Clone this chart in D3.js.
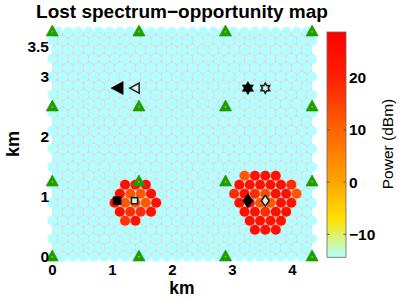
<!DOCTYPE html>
<html>
<head>
<meta charset="utf-8">
<script src="https://cdn.jsdelivr.net/npm/d3@7"></script>
<style>
  html, body { margin: 0; padding: 0; background: #fff; }
  svg { display: block; }
  text { font-family: "Liberation Sans", Arial, sans-serif; fill: #000; }
</style>
</head>
<body>
<div id="chart"></div>
<script>
// grid of the map, in km
const hexStepX = 4.33 / 25, hexStepY = 3.75 / 25
const hexRows = d3.range(26)
const xTicks = [0, 1, 2, 3, 4]
const yTicks = [0, 1, 2, 3, 3.5]
const powerTicks = [-10, 0, 10, 20]
const powerMin = -14.4, powerMax = 28.7

// cells with power above the floor (row from the bottom, column, dBm)
const hotRow = [8,8,8, 7,7,7,7, 6,6,6,6,6, 5,5,5,5, 4,4,
  9,9,9,9, 8,8,8,8,8,8, 7,7,7,7,7,7,7, 6,6,6,6,6,6, 5,5,5,5,5, 4,4,4,4, 3,3,3]
const hotCol = [7,8,9, 6,7,8,9, 6,7,8,9,10, 6,7,8,9, 7,8,
  18,19,20,21, 18,19,20,21,22,23, 17,18,19,20,21,22,23, 18,19,20,21,22,23, 18,19,20,21,22, 19,20,21,22, 19,20,21]
const hotPower = [24,24,24, 24,12,12,24, 24,12,12,12,24, 24,18,18,24, 17,24,
  12,24,24,24, 24,24,24,24,24,18, 18,24,18,14,24,24,12, 24,24,12,12,24,24, 24,24,18,24,24, 24,24,24,24, 24,24,24]

// base stations and users
const towerX = [0, 1.444, 2.887, 4.33]
const towerY = [0, 1.25, 2.5, 3.75]
const markerX = [1.08, 1.37, 3.26, 3.55, 1.08, 1.37, 3.26, 3.55]
const markerY = [2.81, 2.81, 2.81, 2.81, 0.933, 0.933, 0.933, 0.933]
const markerKind = ['left', 'left', 'star', 'star', 'square', 'square', 'diamond', 'diamond']
const markerFilled = [true, false, true, false, true, false, true, false]

const width = 399, height = 300

let x = d3.scaleLinear().domain([0, 1]).range([52.3, 112.3])
let y = d3.scaleLinear().domain([0, 1]).range([256.7, 196.7])
let power = d3.scaleLinear().domain([powerMin, powerMax]).range([257.3, 32])

let color = d3.scaleLinear()
  .domain([-14.4, -12, -10, -7, -3, 0, 5, 10, 20, 28.7])
  .range(['#b3ffff', '#ccfaa8', '#e0f060', '#ffe000', '#ffc000', '#ffa400', '#ff8400', '#ff6400', '#ff2000', '#ff0000'])

let svg = d3.select('#chart').append('svg')
  .attr('width', width)
  .attr('height', height)

svg.append('defs').append('clipPath').attr('id', 'plot')
  .append('rect')
  .attr('x', x(0)).attr('y', y(3.75))
  .attr('width', x(4.33) - x(0)).attr('height', y(0) - y(3.75))

// CELLS
let cells = []
hexRows.forEach(r => {
  let odd = r % 2 == 1
  let count = odd ? 25 : 26
  d3.range(count).forEach(c => {
    cells.push({ r: r, c: c, km: (odd ? hexStepX / 2 : 0) + c * hexStepX, p: powerMin })
  })
})
hotRow.forEach((r, i) => {
  let cell = cells.find(d => d.r == r && d.c == hotCol[i])
  if (cell) cell.p = hotPower[i]
})

function hexPath(d) {
  let cx = x(d.km), cy = y(d.r * hexStepY), rad = (x(hexStepX) - x(0)) / Math.sqrt(3)
  let pts = d3.range(6).map(k => {
    let a = Math.PI / 6 + k * Math.PI / 3
    return [cx + rad * Math.cos(a), cy + rad * Math.sin(a)]
  })
  return d3.line()(pts) + 'Z'
}

svg.append('g').attr('clip-path', 'url(#plot)')
  .selectAll('path').data(cells).enter().append('path')
  .attr('d', hexPath)
  .attr('fill', '#d6f2f2')
  .attr('stroke', '#e6d2d2')
  .attr('stroke-width', 1.3)

svg.append('g').selectAll('circle').data(cells).enter().append('circle')
  .attr('cx', d => x(d.km))
  .attr('cy', d => y(d.r * hexStepY))
  .attr('r', 5.05)
  .attr('fill', d => color(d.p))

// TOWERS
let towers = []
towerY.forEach(ty => towerX.forEach(tx => towers.push({ x: tx, y: ty })))
let towerG = svg.append('g').selectAll('g').data(towers).enter().append('g')
  .attr('transform', d => 'translate(' + x(d.x) + ',' + y(d.y) + ')')
towerG.append('path')
  .attr('d', 'M0,-6.6L6,4.2L-6,4.2Z')
  .attr('fill', '#1f9c00')
  .attr('stroke', '#1f9c00')
  .attr('stroke-width', 0.8)
towerG.append('circle').attr('r', 1).attr('fill', '#7fd000')

// MARKERS
function markerPath(kind) {
  if (kind == 'left') return 'M-6,0L6,-6.5L6,6.5Z'
  if (kind == 'square') return 'M-4,-4L4,-4L4,4L-4,4Z'
  if (kind == 'diamond') return 'M0,-7L5,0L0,7L-5,0Z'
  return 'M0,-6.5L1.9,-3.2L5.6,-3.2L3.8,0L5.6,3.2L1.9,3.2L0,6.5L-1.9,3.2L-5.6,3.2L-3.8,0L-5.6,-3.2L-1.9,-3.2Z'
}
markerX.forEach((mx, i) => {
  let scale = markerFilled[i] ? 1 : 0.78
  svg.append('path')
    .attr('d', markerPath(markerKind[i]))
    .attr('transform', 'translate(' + x(mx) + ',' + y(markerY[i]) + ') scale(' + scale + ')')
    .attr('fill', markerFilled[i] ? '#000' : (markerKind[i] == 'left' || markerKind[i] == 'star' ? '#d8f4f4' : '#e8e8e8'))
    .attr('stroke', markerFilled[i] ? '#000' : '#222')
    .attr('stroke-width', markerFilled[i] ? 0.6 : 2)
})

// AXIS LABELS
svg.append('g').selectAll('text').data(xTicks).enter().append('text')
  .attr('x', d => x(d)).attr('y', 275)
  .attr('text-anchor', 'middle')
  .style('font-size', '15px').style('font-weight', 'bold')
  .text(d => d)

svg.append('g').selectAll('text').data(yTicks).enter().append('text')
  .attr('x', 49).attr('y', d => y(d) + 5.5)
  .attr('text-anchor', 'end')
  .style('font-size', '15.5px').style('font-weight', 'bold')
  .text(d => d)

svg.append('text').attr('x', 182).attr('y', 294)
  .attr('text-anchor', 'middle')
  .style('font-size', '17.5px').style('font-weight', 'bold')
  .text('km')

svg.append('text')
  .attr('transform', 'translate(18.5,144) rotate(-90)')
  .attr('text-anchor', 'middle')
  .style('font-size', '18px').style('font-weight', 'bold')
  .text('km')

svg.append('text').attr('x', 182).attr('y', 17.5)
  .attr('text-anchor', 'middle')
  .style('font-size', '19px').style('font-weight', 'bold')
  .text('Lost spectrum\u2212opportunity map')

// COLOR BAR
let grad = svg.select('defs').append('linearGradient')
  .attr('id', 'bar').attr('x1', 0).attr('x2', 0).attr('y1', 1).attr('y2', 0)
color.domain().forEach(v => {
  grad.append('stop')
    .attr('offset', (v - powerMin) / (powerMax - powerMin))
    .attr('stop-color', color(v))
})
svg.append('rect')
  .attr('x', 327).attr('y', power(powerMax))
  .attr('width', 19).attr('height', power(powerMin) - power(powerMax))
  .attr('fill', 'url(#bar)')
  .attr('stroke', '#666')
  .attr('stroke-width', 0.8)

let bar = svg.append('g').selectAll('g').data(powerTicks).enter().append('g')
bar.append('line')
  .attr('x1', 327).attr('x2', 329.5)
  .attr('y1', d => power(d)).attr('y2', d => power(d))
  .attr('stroke', '#555')
bar.append('line')
  .attr('x1', 343.5).attr('x2', 346)
  .attr('y1', d => power(d)).attr('y2', d => power(d))
  .attr('stroke', '#555')
bar.append('text')
  .attr('x', 349).attr('y', d => power(d) + 5.5)
  .style('font-size', '15.5px').style('font-weight', 'bold')
  .text(d => d < 0 ? '\u2212' + Math.abs(d) : d)

svg.append('text')
  .attr('transform', 'translate(393,144) rotate(-90)')
  .attr('text-anchor', 'middle')
  .style('font-size', '15.5px')
  .text('Power (dBm)')
</script>
</body>
</html>
